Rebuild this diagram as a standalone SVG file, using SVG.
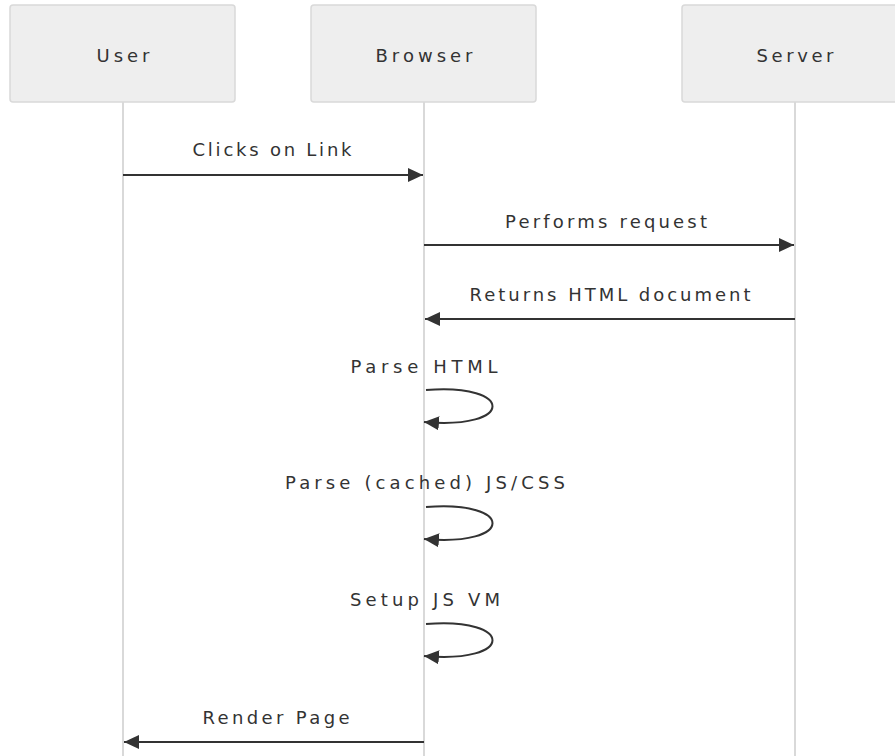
<svg xmlns="http://www.w3.org/2000/svg" width="895" height="756" viewBox="0 0 895 756">
  <style>
    .actor rect { fill: #eeeeee; stroke: #d9d9d9; stroke-width: 1.5; }
    .label { font-family: "DejaVu Sans", "Open Sans", sans-serif; font-size: 18px; fill: #333333; text-anchor: middle; }
    .lifeline { stroke: #d9d9d9; stroke-width: 2; fill: none; }
    .msg { stroke: #333333; stroke-width: 2; fill: none; }
  </style>
  <defs>
    <marker id="arrowhead" markerUnits="userSpaceOnUse" markerWidth="16" markerHeight="16" refX="15" refY="7" orient="auto">
      <path d="M0,0 L15,7 L0,14 z" fill="#333333"/>
    </marker>
  </defs>
  <rect width="895" height="756" fill="#ffffff"/>

  <!-- lifelines -->
  <g id="lifelines">
    <line class="lifeline" x1="123" y1="102" x2="123" y2="756"/>
    <line class="lifeline" x1="424" y1="102" x2="424" y2="756"/>
    <line class="lifeline" x1="795" y1="102" x2="795" y2="756"/>
  </g>

  <!-- participants -->
  <g id="user" class="actor">
    <rect x="10" y="5" width="225" height="97" rx="3"/>
    <text class="label" x="123" y="62" textLength="53" lengthAdjust="spacing">User</text>
  </g>
  <g id="browser" class="actor">
    <rect x="311" y="5" width="225" height="97" rx="3"/>
    <text class="label" x="424" y="62" textLength="97" lengthAdjust="spacing">Browser</text>
  </g>
  <g id="server" class="actor">
    <rect x="682" y="5" width="225" height="97" rx="3"/>
    <text class="label" x="795" y="62" textLength="77" lengthAdjust="spacing">Server</text>
  </g>

  <!-- messages -->
  <g id="messages">
    <text class="label" x="272" y="156" textLength="159" lengthAdjust="spacing">Clicks on Link</text>
    <line class="msg" x1="123" y1="175" x2="423" y2="175" marker-end="url(#arrowhead)"/>

    <text class="label" x="606" y="228" textLength="202" lengthAdjust="spacing">Performs request</text>
    <line class="msg" x1="424" y1="245" x2="794" y2="245" marker-end="url(#arrowhead)"/>

    <text class="label" x="610" y="301" textLength="281" lengthAdjust="spacing">Returns HTML document</text>
    <line class="msg" x1="795" y1="319" x2="425" y2="319" marker-end="url(#arrowhead)"/>

    <text class="label" x="424" y="373" textLength="147" lengthAdjust="spacing">Parse HTML</text>
    <path class="msg" d="M426,390 C515,383 515,430 424,422" marker-end="url(#arrowhead)"/>

    <text class="label" x="425" y="489" textLength="280" lengthAdjust="spacing">Parse (cached) JS/CSS</text>
    <path class="msg" d="M426,507 C515,500 515,547 424,539" marker-end="url(#arrowhead)"/>

    <text class="label" x="425" y="606" textLength="150" lengthAdjust="spacing">Setup JS VM</text>
    <path class="msg" d="M426,624 C515,617 515,664 424,656" marker-end="url(#arrowhead)"/>

    <text class="label" x="276" y="724" textLength="147" lengthAdjust="spacing">Render Page</text>
    <line class="msg" x1="424" y1="742" x2="124" y2="742" marker-end="url(#arrowhead)"/>
  </g>
</svg>
